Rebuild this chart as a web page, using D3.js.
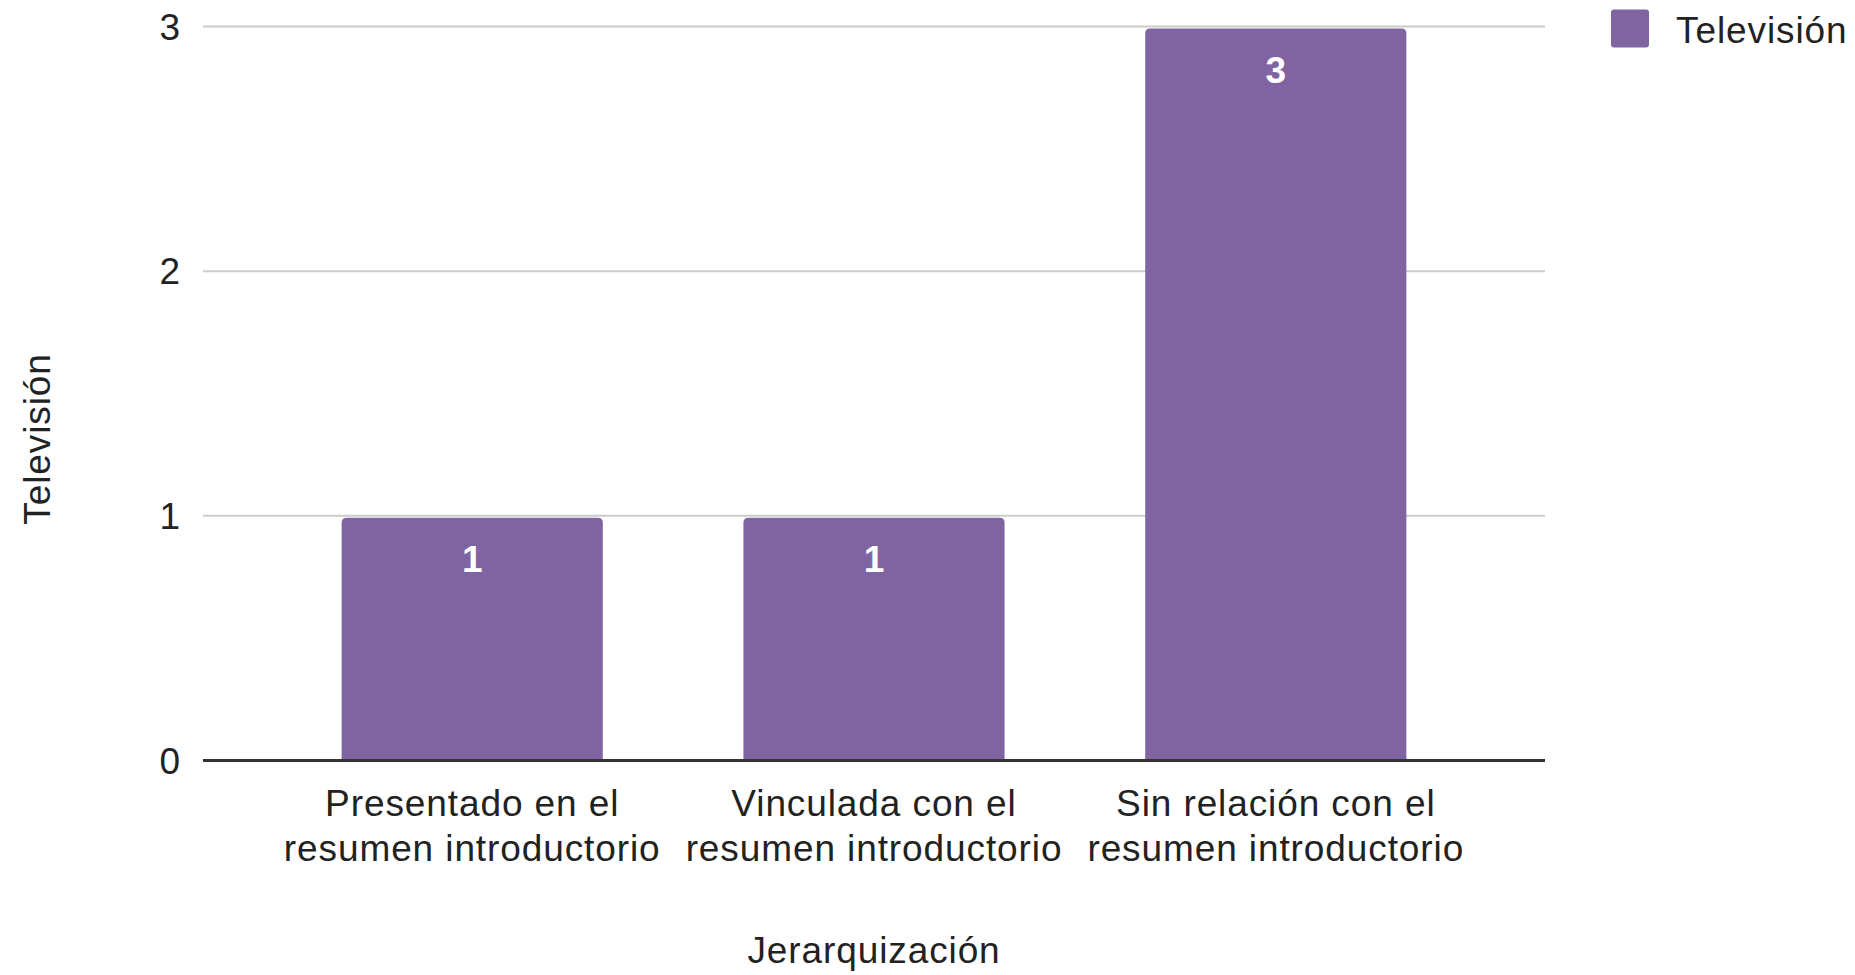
<!DOCTYPE html>
<html>
<head>
<meta charset="utf-8">
<script src="https://cdn.jsdelivr.net/npm/d3@7"></script>
<style>
  html, body { margin: 0; padding: 0; background: #fff; }
  svg { display: block; font-family: "Liberation Sans", Arial, sans-serif; }
</style>
</head>
<body>
<svg id="chart" width="1855" height="975"></svg>
<script>
const categories = [
  ["Presentado en el", "resumen introductorio"],
  ["Vinculada con el", "resumen introductorio"],
  ["Sin relación con el", "resumen introductorio"]
];
const values = [1, 1, 3];
const yTicks = [0, 1, 2, 3];
const seriesName = "Televisión";
const xTitle = "Jerarquización";
const yTitle = "Televisión";

const W = 1855, H = 975;
const plot = { left: 203, right: 1545, top: 26.5, bottom: 760.5 };
const barColor = "#8064a2";
const fontSize = 37;
const ls = "0.9px";

const svg = d3.select("#chart");

const x = d3.scaleBand()
  .domain(d3.range(categories.length))
  .range([plot.left, plot.right])
  .paddingInner(0.35)
  .paddingOuter(0.345);

const y = d3.scaleLinear()
  .domain([0, 3])
  .range([plot.bottom, plot.top]);

// gridlines
svg.append("g")
  .selectAll("line")
  .data(yTicks.filter(t => t !== 0))
  .join("line")
  .attr("x1", plot.left).attr("x2", plot.right)
  .attr("y1", d => y(d)).attr("y2", d => y(d))
  .attr("stroke", "#cccccc")
  .attr("stroke-width", 2);

// y tick labels
svg.append("g")
  .selectAll("text")
  .data(yTicks)
  .join("text")
  .attr("x", 180)
  .attr("y", d => y(d))
  .attr("dy", "0.36em")
  .attr("text-anchor", "end")
  .attr("font-size", fontSize)
  .attr("fill", "#222")
  .text(d => d);

// bars with rounded top corners
const r = 5;
function barPath(x0, w, yTop, yBot) {
  return `M${x0},${yBot} L${x0},${yTop + r} Q${x0},${yTop} ${x0 + r},${yTop} ` +
         `L${x0 + w - r},${yTop} Q${x0 + w},${yTop} ${x0 + w},${yTop + r} L${x0 + w},${yBot} Z`;
}
svg.append("g")
  .selectAll("path")
  .data(values)
  .join("path")
  .attr("d", (d, i) => barPath(x(i), x.bandwidth(), y(d) + 2, y(0)))
  .attr("fill", barColor);

// data labels
svg.append("g")
  .selectAll("text")
  .data(values)
  .join("text")
  .attr("x", (d, i) => x(i) + x.bandwidth() / 2)
  .attr("y", d => y(d) + 56)
  .attr("text-anchor", "middle")
  .attr("font-size", fontSize)
  .attr("font-weight", "bold")
  .attr("fill", "#ffffff")
  .text(d => d);

// baseline axis
svg.append("line")
  .attr("x1", plot.left).attr("x2", plot.right)
  .attr("y1", y(0)).attr("y2", y(0))
  .attr("stroke", "#333333")
  .attr("stroke-width", 3);

// category labels
const catG = svg.append("g");
categories.forEach((lines, i) => {
  const t = catG.append("text")
    .attr("text-anchor", "middle")
    .attr("font-size", fontSize)
    .attr("letter-spacing", ls)
    .attr("fill", "#222");
  lines.forEach((ln, j) => {
    t.append("tspan")
      .attr("x", x(i) + x.bandwidth() / 2)
      .attr("y", 815.5 + j * 45)
      .text(ln);
  });
});

// axis titles
svg.append("text")
  .attr("x", (plot.left + plot.right) / 2)
  .attr("y", 963)
  .attr("text-anchor", "middle")
  .attr("font-size", fontSize)
  .attr("letter-spacing", ls)
  .attr("fill", "#222")
  .text(xTitle);

svg.append("text")
  .attr("transform", "translate(50,439) rotate(-90)")
  .attr("text-anchor", "middle")
  .attr("font-size", fontSize)
  .attr("letter-spacing", ls)
  .attr("fill", "#222")
  .text(yTitle);

// legend
const leg = svg.append("g");
leg.append("rect")
  .attr("x", 1611).attr("y", 9.5)
  .attr("width", 38).attr("height", 38)
  .attr("rx", 3)
  .attr("fill", barColor);
leg.append("text")
  .attr("x", 1676).attr("y", 43)
  .attr("font-size", fontSize)
  .attr("letter-spacing", ls)
  .attr("fill", "#222")
  .text(seriesName);
</script>
</body>
</html>
